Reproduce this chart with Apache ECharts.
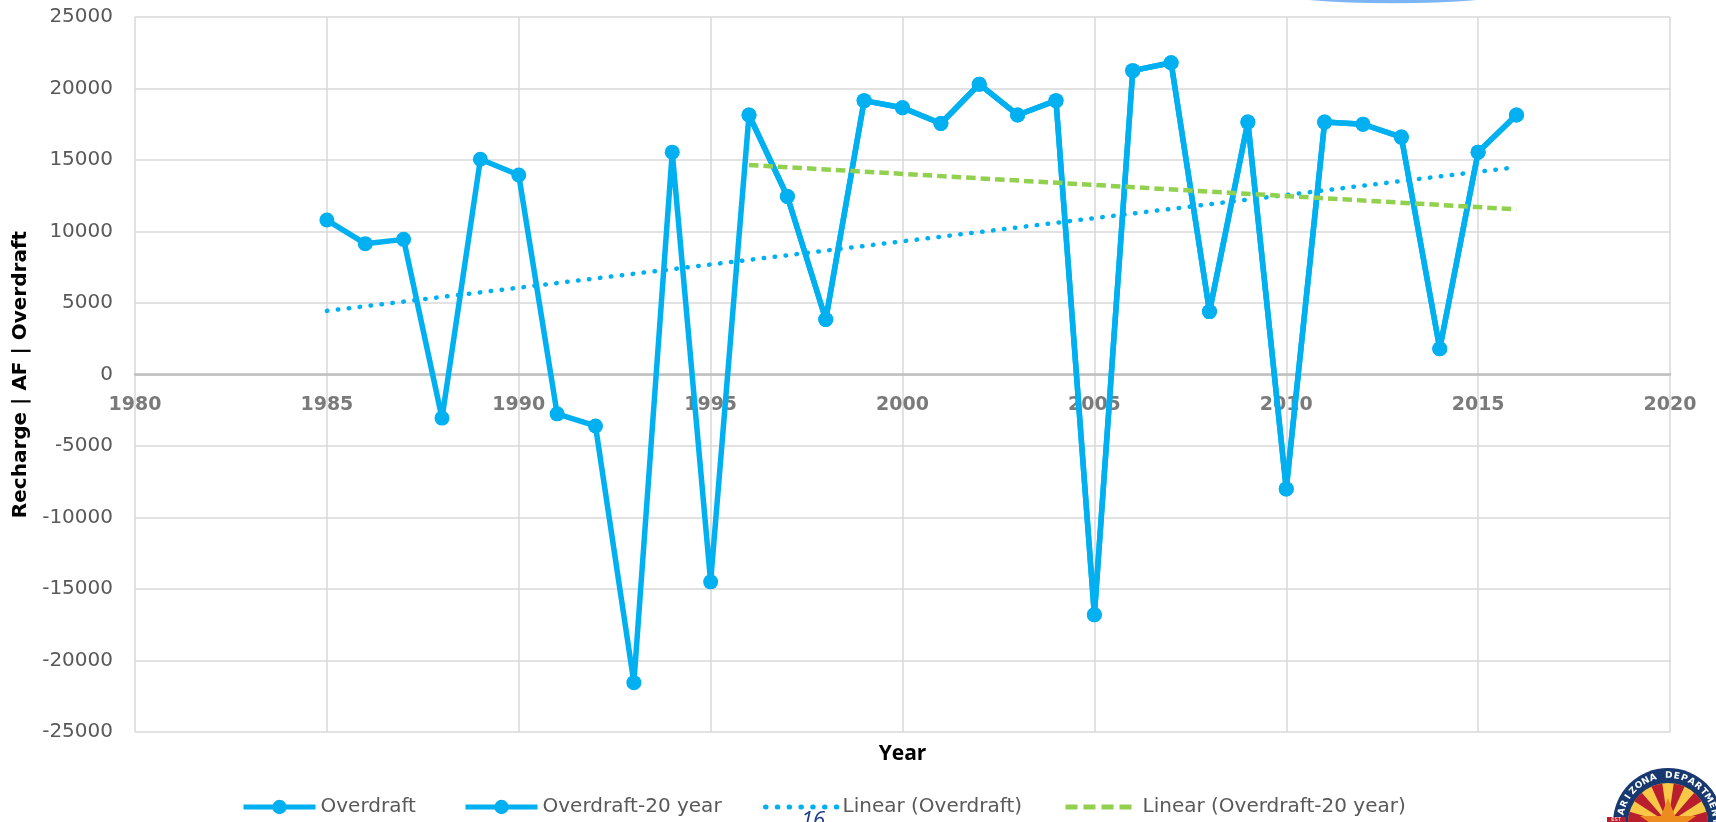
<!DOCTYPE html>
<html>
<head>
<meta charset="utf-8">
<script src="https://cdn.jsdelivr.net/npm/echarts@6/dist/echarts.min.js"></script>
<style>
html,body{margin:0;padding:0;background:#fff;}
#chart{width:1716px;height:822px;}
</style>
</head>
<body>
<div id="chart"></div>
<script>
// Data
const years = [1985,1986,1987,1988,1989,1990,1991,1992,1993,1994,1995,1996,1997,1998,1999,2000,2001,2002,2003,2004,2005,2006,2007,2008,2009,2010,2011,2012,2013,2014,2015,2016];
const overdraft = [10800,9150,9450,-3050,15050,13950,-2750,-3600,-21550,15550,-14500,18150,12450,3850,19150,18650,17550,20300,18150,19150,-16800,21250,21800,4400,17650,-8000,17650,17500,16600,1800,15550,18150];
const years20 = [1996,1997,1998,1999,2000,2001,2002,2003,2004,2005,2006,2007,2008,2009,2010,2011,2012,2013,2014,2015,2016];
const overdraft20 = [18150,12450,3850,19150,18650,17550,20300,18150,19150,-16800,21250,21800,4400,17650,-8000,17650,17500,16600,1800,15550,18150];
const trendYears = [1985, 2016];
const trendOverdraft = [4450, 14500];
const trend20Years = [1996, 2016];
const trendOverdraft20 = [14650, 11550];
const xTickLabels = [1980,1985,1990,1995,2000,2005,2010,2015,2020];
const xTicks = {min:1980, max:2020, interval:5};
const yTicks = {min:-25000, max:25000, interval:5000};
const seriesNames = ['Overdraft','Overdraft-20 year','Linear (Overdraft)','Linear (Overdraft-20 year)'];

const zip = (xs, ys) => xs.map((x, i) => [x, ys[i]]);
const FONT = '"DejaVu Sans", sans-serif';
const BLUE = '#00B0F0';
const GREEN = '#92D050';
const GRAY = '#595959';

// legend layout (one legend per entry, positioned like the original)
const legendLefts = [241, 463, 763, 1063];
const legendStyles = [
  {lineStyle:{width:5, color:BLUE}, itemStyle:{color:BLUE}},
  {lineStyle:{width:5, color:BLUE}, itemStyle:{color:BLUE}},
  {lineStyle:{width:5, color:BLUE, type:[0.5,11.3], cap:'round'}, itemStyle:{color:'rgba(0,0,0,0)', opacity:0}},
  {lineStyle:{width:5, color:GREEN, type:[12,6], cap:'butt'}, itemStyle:{color:'rgba(0,0,0,0)', opacity:0}}
];
const legends = seriesNames.map((n, i) => ({
  left:legendLefts[i], top:797, padding:0, orient:'horizontal',
  itemWidth:72, itemHeight:18, selectedMode:false,
  textStyle:{fontSize:20, color:GRAY, fontFamily:FONT},
  data:[Object.assign({name:n}, legendStyles[i])]
}));

// seal decoration in the lower-right corner
const sealCx = 1668, sealCy = 823;
const sealText = 'ARIZONA DEPARTMENT';
const sealChars = [];
for (let i = 0; i < sealText.length; i++) {
  const th = (-166 + i * 9.6) * Math.PI / 180;
  sealChars.push({type:'text', x:sealCx + 47.5 * Math.cos(th), y:sealCy + 47.5 * Math.sin(th),
    rotation:-(th + Math.PI / 2),
    style:{text:sealText[i], fontSize:9, fontWeight:'bold', fill:'#ffffff', align:'center', verticalAlign:'middle', fontFamily:FONT}});
}
const rays = [];
for (let k = 0; k < 6; k++) {
  const a0 = Math.PI + k * Math.PI / 5.5;
  rays.push({type:'sector', shape:{cx:sealCx, cy:sealCy, r:40, r0:0, startAngle:a0, endAngle:a0 + Math.PI / 11}, style:{fill:'#B81E2D'}});
}

const chart = echarts.init(document.getElementById('chart'), null, {renderer:'canvas'});
chart.setOption({
  backgroundColor:'#ffffff',
  animation:false,
  textStyle:{fontFamily:FONT},
  grid:{left:135, top:17, right:46, bottom:90},
  legend:legends,
  xAxis:[{
    type:'value', min:xTicks.min, max:xTicks.max, interval:xTicks.interval,
    axisLine:{show:true, onZero:true, lineStyle:{color:'#BFBFBF', width:2.5}},
    axisTick:{show:false},
    axisLabel:{show:false},
    splitLine:{show:true, lineStyle:{color:'#D9D9D9', width:1.5}}
  },{
    type:'value', min:xTicks.min, max:xTicks.max, position:'bottom',
    axisLine:{show:false, onZero:false}, axisTick:{show:false}, axisLabel:{show:false}, splitLine:{show:false},
    name:'Year', nameLocation:'middle', nameGap:12,
    nameTextStyle:{fontSize:21, fontWeight:'bold', color:'#000', fontFamily:'"Open Sans", sans-serif'}
  }],
  yAxis:{
    type:'value', min:yTicks.min, max:yTicks.max, interval:yTicks.interval,
    axisLine:{show:false}, axisTick:{show:false},
    axisLabel:{margin:22, fontSize:20, color:GRAY, fontFamily:FONT, formatter:v => String(v)},
    splitLine:{show:true, lineStyle:{color:'#D9D9D9', width:1.5}},
    name:'Recharge | AF | Overdraft', nameLocation:'middle', nameRotate:90, nameGap:102,
    nameTextStyle:{fontSize:20, fontWeight:'bold', color:'#000', fontFamily:FONT}
  },
  series:[
    {name:'xTickLabels', type:'scatter', data:xTickLabels.map(y => [y, 0]), symbolSize:1,
     itemStyle:{color:'rgba(0,0,0,0)'}, silent:true, z:1,
     label:{show:true, position:'bottom', distance:21, formatter:p => String(p.value[0]),
            fontSize:19, fontWeight:'bold', color:GRAY, fontFamily:FONT}},
    {name:seriesNames[0], type:'line', data:zip(years, overdraft), symbol:'circle', symbolSize:15,
     lineStyle:{color:BLUE, width:5.5}, itemStyle:{color:BLUE}, z:3},
    {name:seriesNames[1], type:'line', data:zip(years20, overdraft20), symbol:'circle', symbolSize:15,
     lineStyle:{color:BLUE, width:5.5}, itemStyle:{color:BLUE}, z:4},
    {name:seriesNames[2], type:'line', data:zip(trendYears, trendOverdraft), symbol:'none',
     lineStyle:{color:BLUE, width:4.5, type:[0.5,10.5], cap:'round'}, itemStyle:{color:BLUE}, z:5},
    {name:seriesNames[3], type:'line', data:zip(trend20Years, trendOverdraft20), symbol:'none',
     lineStyle:{color:GREEN, width:4.5, type:[9.5,5], cap:'butt'}, itemStyle:{color:GREEN}, z:5}
  ],
  graphic:[
    {type:'ellipse', shape:{cx:1393, cy:-56.7, rx:257, ry:60}, style:{fill:'#7CB5F5'}, silent:true},
    {type:'text', left:801, top:810, style:{text:'16', fontSize:22, fontStyle:'italic', fill:'#1F3C88', fontFamily:'"Open Sans", sans-serif'}, silent:true},
    {type:'group', silent:true, children:[
      {type:'circle', shape:{cx:sealCx, cy:sealCy, r:55}, style:{fill:'#17396F'}},
      {type:'circle', shape:{cx:sealCx, cy:sealCy, r:40}, style:{fill:'#F8C846'}}
    ].concat(rays).concat([
      {type:'polygon', shape:{points:[[1668,798],[1675,816],[1696,816],[1679,828],[1657,828],[1640,816],[1661,816]]}, style:{fill:'#EE8B1F'}},
      {type:'rect', shape:{x:1607, y:817, width:19, height:6}, style:{fill:'#B81E2D'}},
      {type:'text', x:1616, y:820, style:{text:'EST', fontSize:5, fill:'#fff', align:'center', verticalAlign:'middle', fontFamily:FONT}}
    ]).concat(sealChars)}
  ]
});
</script>
</body>
</html>
